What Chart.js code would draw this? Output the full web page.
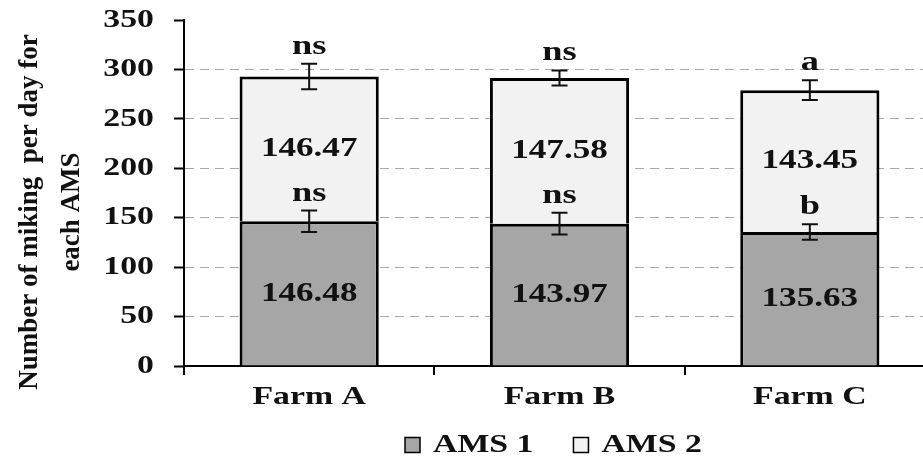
<!DOCTYPE html>
<html><head><meta charset="utf-8">
<script src="https://cdn.jsdelivr.net/npm/chart.js@4/dist/chart.umd.min.js"></script>
<style>
html,body{margin:0;padding:0;background:#fff;overflow:hidden;width:923px;height:459px}
#wrap{width:935px;height:459px;position:relative}
</style>
</head><body><div id="wrap"><canvas id="c" width="935" height="459"></canvas></div>
<script>
const categories = ['Farm A', 'Farm B', 'Farm C'];
const seriesNames = ['AMS 1', 'AMS 2'];
const ams1 = [146.48, 143.97, 135.63];
const ams2 = [146.47, 147.58, 143.45];
const err1 = [10.8, 11, 7.8];
const err2 = [13, 7.6, 10];
const sig1 = ['ns', 'ns', 'b'];
const sig2 = ['ns', 'ns', 'a'];
const yMin = 0, yMax = 350, yStep = 50;
const yTitle = ['Number of miking  per day for', 'each AMS'];

const FONT = "'Liberation Serif', 'Times New Roman', serif";
const STRETCH = 1.3;   // horizontal text stretch seen in the reference

const canvas = document.getElementById('c');
const ctx0 = canvas.getContext('2d');
const P = CanvasRenderingContext2D.prototype;
ctx0.fillText = function (t, x, y, mw) {
  this.save();
  this.translate(x, y);
  this.scale(STRETCH, 1);
  if (mw === undefined) P.fillText.call(this, t, 0, 0);
  else P.fillText.call(this, t, 0, 0, mw / STRETCH);
  this.restore();
};
ctx0.measureText = function (t) {
  const m = P.measureText.call(this, t);
  return {
    width: m.width * STRETCH,
    actualBoundingBoxLeft: m.actualBoundingBoxLeft * STRETCH,
    actualBoundingBoxRight: m.actualBoundingBoxRight * STRETCH,
    actualBoundingBoxAscent: m.actualBoundingBoxAscent,
    actualBoundingBoxDescent: m.actualBoundingBoxDescent,
    fontBoundingBoxAscent: m.fontBoundingBoxAscent,
    fontBoundingBoxDescent: m.fontBoundingBoxDescent
  };
};

const legendPlace = {
  id: 'legendPlace',
  beforeDraw(chart) {
    const L = chart.legend;
    if (L && L.lineWidths) {
      const pad = L.options.labels.padding;
      const start = (L.left + pad + L.right - L.lineWidths[0]) / 2;
      const dx = 405 - start;
      L.left += dx; L.right += dx;
      const itemH = Math.max(L.options.labels.boxHeight, L.options.labels.font.size);
      L.top = 445 - pad - itemH / 2;
      L.bottom = chart.height;
      L.height = L.bottom - L.top;
    }
  }
};

const annotatePlugin = {
  id: 'annot',
  afterDatasetsDraw(chart) {
    const ctx = chart.ctx, y = chart.scales.y;
    const m0 = chart.getDatasetMeta(0);
    ctx.save();
    ctx.fillStyle = '#111';
    ctx.strokeStyle = '#111';
    ctx.lineWidth = 2;
    ctx.textAlign = 'center';
    for (let i = 0; i < categories.length; i++) {
      const x = m0.data[i].x;
      const tot = ams1[i] + ams2[i];
      ctx.font = 'bold 27px ' + FONT;
      ctx.textBaseline = 'middle';
      ctx.fillText(ams1[i].toFixed(2), x, y.getPixelForValue(ams1[i] / 2));
      ctx.fillText(ams2[i].toFixed(2), x, y.getPixelForValue(ams1[i] + ams2[i] / 2));
      const bars = [[ams1[i], err1[i], sig1[i]], [tot, err2[i], sig2[i]]];
      for (const [v, e, s] of bars) {
        const yt = y.getPixelForValue(v + e), yb = y.getPixelForValue(v - e);
        ctx.beginPath();
        ctx.moveTo(x, yt); ctx.lineTo(x, yb);
        ctx.moveTo(x - 8, yt); ctx.lineTo(x + 8, yt);
        ctx.moveTo(x - 8, yb); ctx.lineTo(x + 8, yb);
        ctx.stroke();
        ctx.font = 'bold 28px ' + FONT;
        ctx.textBaseline = 'alphabetic';
        ctx.fillText(s, x, yt - 10);
      }
    }
    ctx.restore();
  },
  afterDraw(chart) {
    const ctx = chart.ctx;
    ctx.save();
    ctx.fillStyle = '#111';
    ctx.font = 'bold 27px ' + FONT;
    ctx.textAlign = 'center';
    ctx.textBaseline = 'middle';
    const cy = 212;
    const xs = [30, 72];
    yTitle.forEach((t, k) => {
      ctx.save();
      ctx.translate(xs[k], cy);
      ctx.rotate(-Math.PI / 2);
      P.fillText.call(ctx, t, 0, 0);
      ctx.restore();
    });
    ctx.restore();
  }
};

const chart = new Chart(canvas, {
  type: 'bar',
  data: {
    labels: categories,
    datasets: [
      { label: seriesNames[0], data: ams1, backgroundColor: '#a6a6a6', borderColor: '#000', borderWidth: 3 },
      { label: seriesNames[1], data: ams2, backgroundColor: '#f2f2f2', borderColor: '#000', borderWidth: 3 }
    ]
  },
  options: {
    responsive: false,
    devicePixelRatio: 1,
    animation: false,
    categoryPercentage: 1,
    barPercentage: 0.556,
    layout: { padding: { left: 4, right: 0, top: 20, bottom: 0 } },
    plugins: {
      tooltip: { enabled: false },
      legend: {
        position: 'bottom',
        maxHeight: 40,
        labels: {
          color: '#111',
          font: { family: FONT, size: 26, weight: 'bold' },
          boxWidth: 15, boxHeight: 15, padding: 40,
          generateLabels(ch) {
            return Chart.defaults.plugins.legend.labels.generateLabels(ch).map(it => Object.assign(it, { lineWidth: 1.5 }));
          }
        }
      }
    },
    scales: {
      x: {
        stacked: true,
        afterFit(s) { s.height = 53; },
        grid: { offset: true, drawOnChartArea: false, color: '#000', lineWidth: 2, tickLength: 9 },
        border: { display: true, color: '#000', width: 2 },
        ticks: { color: '#111', font: { family: FONT, size: 26, weight: 'bold' }, padding: 7 }
      },
      y: {
        stacked: true,
        min: yMin, max: yMax,
        afterFit(s) { s.width = 180; },
        grid: {
          color: c => (c.tick && (c.tick.value === yMax || c.tick.value === yMin)) ? 'rgba(0,0,0,0)' : '#a8a8a8',
          lineWidth: 1,
          tickColor: '#000', tickWidth: 2, tickLength: 10, tickBorderDash: []
        },
        border: { display: true, color: '#000', width: 2, dash: [9, 6] },
        ticks: { stepSize: yStep, color: '#111', font: { family: FONT, size: 26, weight: 'bold', lineHeight: 0.01 }, padding: 20 },
        title: { display: false }
      }
    }
  },
  plugins: [legendPlace, annotatePlugin]
});
</script>
</body></html>
